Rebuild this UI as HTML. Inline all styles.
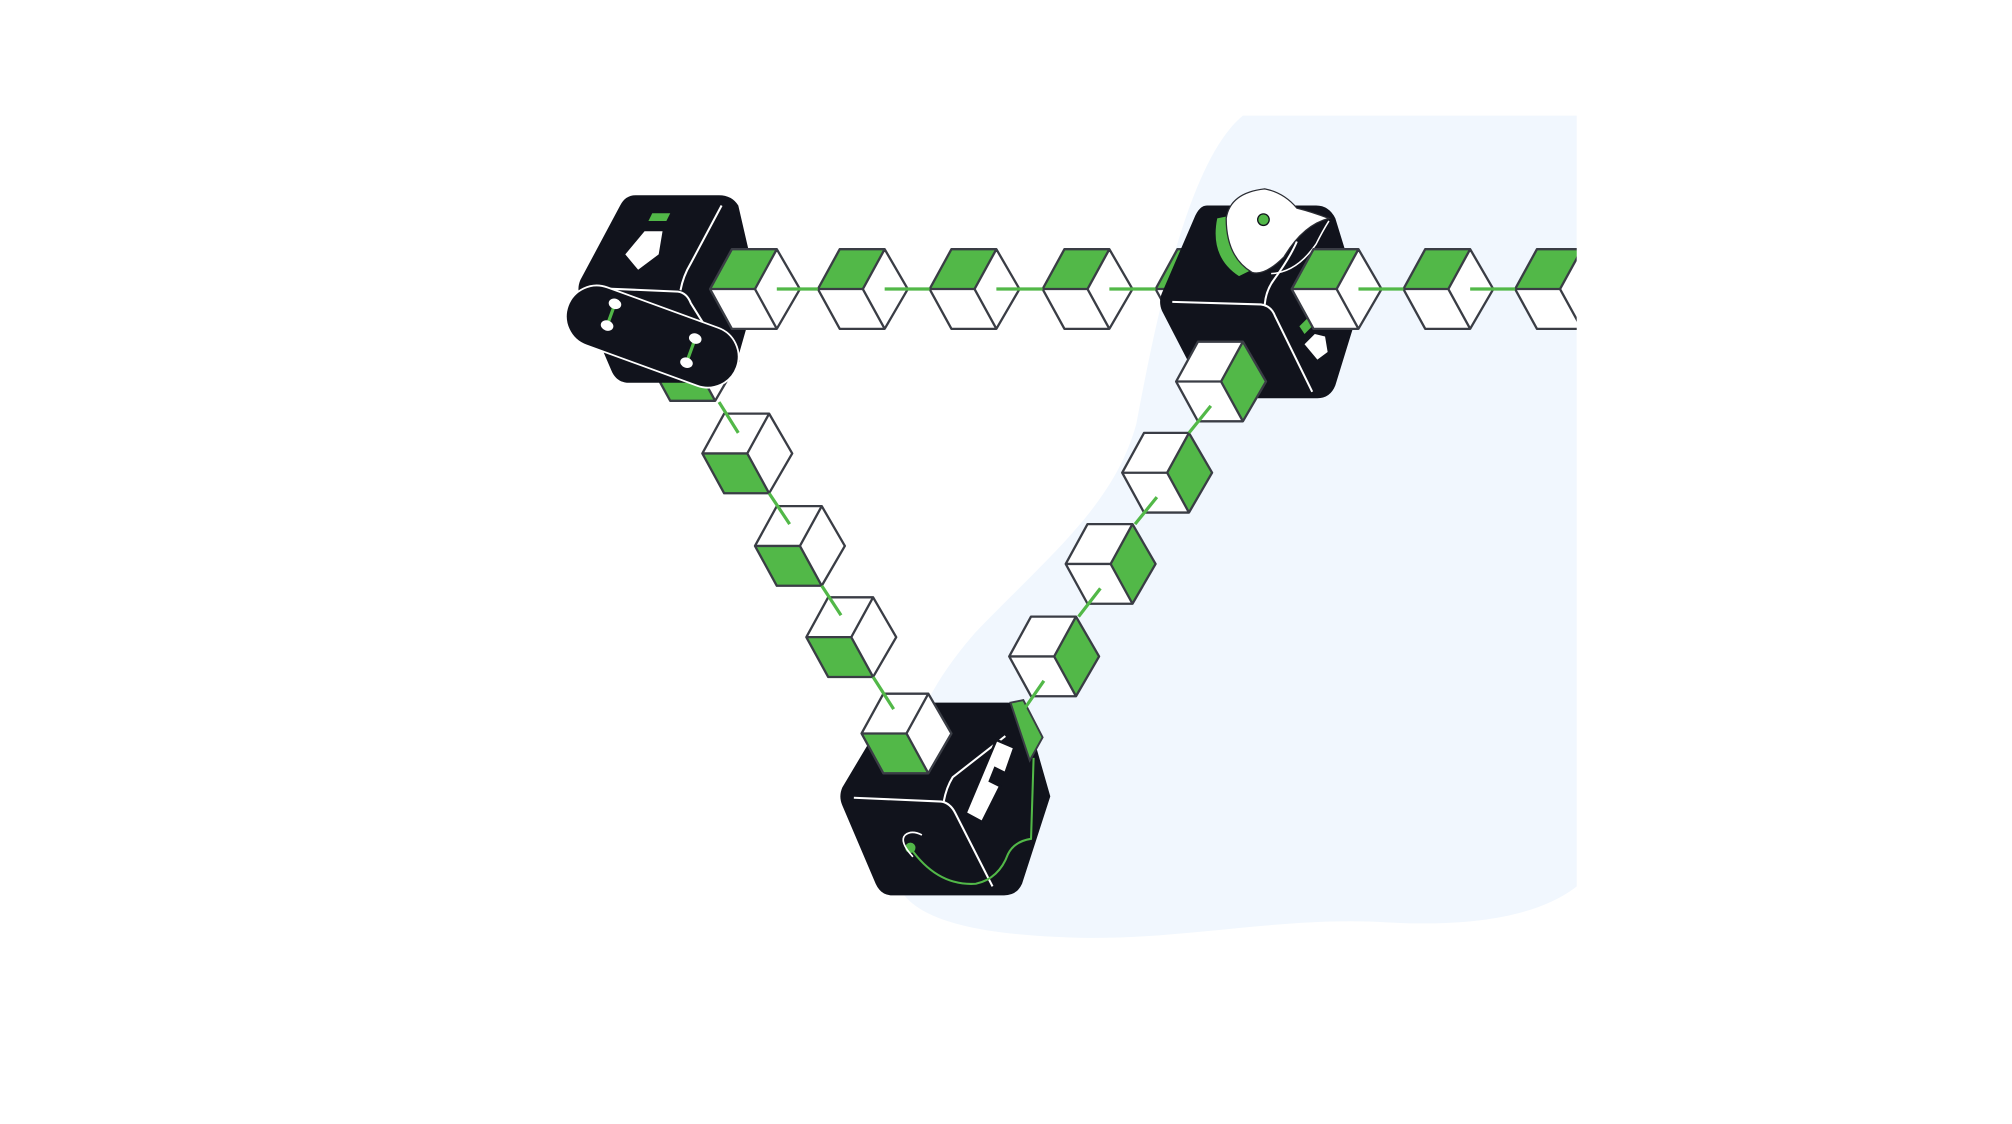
<!DOCTYPE html>
<html><head><meta charset="utf-8"><style>html,body{margin:0;padding:0;background:#fff;width:2012px;height:1124px;overflow:hidden}</style></head>
<body>
<svg width="2012" height="1124" viewBox="0 0 1567 875" preserveAspectRatio="none" xmlns="http://www.w3.org/2000/svg">
<defs>
<g id="cT"><path d="M17,0 H52 L70,31 L52,62 H17 L0,31 Z" fill="#fff"/><path d="M17,0 H52 L35,31 H0 Z" fill="#52b848"/><path d="M17,0 H52 L70,31 L52,62 H17 L0,31 Z M0,31 H35 M52,0 L35,31 L52,62" fill="none" stroke="#3a3d45" stroke-width="1.8" stroke-linejoin="round"/></g>
<g id="cL"><path d="M17,0 H52 L70,31 L52,62 H17 L0,31 Z" fill="#fff"/><path d="M0,31 H35 L52,62 H17 Z" fill="#52b848"/><path d="M17,0 H52 L70,31 L52,62 H17 L0,31 Z M0,31 H35 M52,0 L35,31 L52,62" fill="none" stroke="#3a3d45" stroke-width="1.8" stroke-linejoin="round"/></g>
<g id="cR"><path d="M17,0 H52 L70,31 L52,62 H17 L0,31 Z" fill="#fff"/><path d="M35,31 L52,0 L70,31 L52,62 Z" fill="#52b848"/><path d="M17,0 H52 L70,31 L52,62 H17 L0,31 Z M0,31 H35 M52,0 L35,31 L52,62" fill="none" stroke="#3a3d45" stroke-width="1.8" stroke-linejoin="round"/></g>
</defs>
<path d="M968,90 L1228,90 L1228,690 C1200,712 1150,722 1080,718 C1000,713 920,732 840,730 C760,728 712,716 700,690 C694,620 700,560 760,492 C820,430 868,392 885,330 C900,250 925,125 968,90 Z" fill="#f1f7fe"/>

<use href="#cL" x="505" y="250"/>
<use href="#cT" x="900" y="194"/>

<path d="M495,152 H560 Q570,152 575,160 L590,225 L572,288 Q568,298 558,298 H490 Q480,298 476,288 L452,232 Q449,225 452,218 L483,160 Q487,152 495,152 Z" fill="#11131c"/>
<path d="M457,224 L528,227 Q535,228 538,236 L548,252 M530,226 Q532,215 538,205 L562,160" fill="none" stroke="#fff" stroke-width="1.6"/>
<path d="M508,166 H522 L519,172 H505 Z" fill="#52b848"/>
<path d="M502,180 H516 L513,198 L497,210 L487,198 Z" fill="#fff"/>
<g transform="rotate(20 508 262)">
<rect x="438" y="238" width="140" height="48" rx="24" fill="#11131c" stroke="#fff" stroke-width="1.4"/>
<line x1="472" y1="248" x2="472" y2="266" stroke="#52b848" stroke-width="2.5"/>
<line x1="540" y1="252" x2="540" y2="272" stroke="#52b848" stroke-width="2.5"/>
<ellipse cx="472" cy="248" rx="5" ry="4" fill="#fff"/><ellipse cx="472" cy="266" rx="5" ry="4" fill="#fff"/>
<ellipse cx="540" cy="252" rx="5" ry="4" fill="#fff"/><ellipse cx="540" cy="272" rx="5" ry="4" fill="#fff"/>
</g>

<path d="M940,160 H1025 Q1035,160 1040,170 L1060,235 L1040,300 Q1036,310 1026,310 H950 Q940,310 935,300 L905,242 Q902,235 905,228 L930,170 Q934,160 940,160 Z" fill="#11131c"/>
<path d="M913,235 L982,237 Q990,238 993,246 L1022,305 M985,237 Q986,226 992,218 Q1005,200 1010,188" fill="none" stroke="#fff" stroke-width="1.6"/>
<path d="M948,170 Q942,200 965,215 L975,210 Q955,195 958,168 Z" fill="#52b848"/>
<path d="M955,170 Q958,150 985,147 Q1000,150 1010,162 Q1022,165 1035,170 Q1015,175 1000,200 Q985,215 975,212 Q955,200 955,170 Z" fill="#fff" stroke="#2a2c33" stroke-width="1"/>
<path d="M990,213 Q1010,212 1025,190 Q1030,180 1035,172" fill="none" stroke="#fff" stroke-width="1.2"/>
<circle cx="984" cy="171" r="4.5" fill="#52b848" stroke="#11131c" stroke-width="1"/>
<path d="M1016,268 L1024,260 L1032,262 L1034,274 L1026,280 Z" fill="#fff"/>
<path d="M1012,254 L1018,248 L1022,254 L1016,260 Z" fill="#52b848"/>

<path d="M700,547 H785 Q795,547 800,557 L818,620 L796,688 Q792,697 782,697 H695 Q686,697 682,688 L656,627 Q653,620 656,613 L690,556 Q694,547 700,547 Z" fill="#11131c"/>
<path d="M665,621 L733,624 Q740,625 744,633 L773,690 M735,624 Q737,613 742,605 L783,573" fill="none" stroke="#fff" stroke-width="1.6"/>
<path d="M776,576 L790,582 L783,602 L775,598 L771,608 L779,612 L765,640 L752,633 Z" fill="#fff" stroke="#11131c" stroke-width="2"/>
<path d="M709,660 Q730,690 760,688 Q778,684 785,665 Q790,655 803,653 L805,590" fill="none" stroke="#52b848" stroke-width="1.6"/>
<circle cx="709" cy="660" r="4" fill="#52b848"/>
<path d="M711,667 Q700,655 705,650 Q710,646 718,650" fill="none" stroke="#fff" stroke-width="1.3"/>
<path d="M787,547 L797,545 L812,574 L802,592 Z" fill="#52b848" stroke="#3a3d45" stroke-width="1.5"/>

<use href="#cT" x="553" y="194"/>
<use href="#cT" x="637" y="194"/>
<use href="#cT" x="724" y="194"/>
<use href="#cT" x="812" y="194"/>
<use href="#cT" x="1006" y="194"/>
<use href="#cT" x="1093" y="194"/>
<use href="#cT" x="1180" y="194"/>
<use href="#cL" x="547" y="322"/>
<use href="#cL" x="588" y="394"/>
<use href="#cL" x="628" y="465"/>
<use href="#cL" x="671" y="540"/>
<use href="#cR" x="916" y="266"/>
<use href="#cR" x="874" y="337"/>
<use href="#cR" x="830" y="408"/>
<use href="#cR" x="786" y="480"/>

<g stroke="#52b848" stroke-width="2.5" fill="none">
<path d="M605,225 H637 M689,225 H724 M776,225 H812 M864,225 H900 M1058,225 H1093 M1145,225 H1180"/>
<path d="M560,313 L575,337 M599,384 L615,408 M640,456 L655,479 M680,527 L696,552"/>
<path d="M943,316 L926,337 M901,387 L884,408 M857,458 L840,480 M813,530 L797,553"/>
</g>
<rect x="1228" y="150" width="60" height="130" fill="#fff"/>
</svg>
</body></html>
